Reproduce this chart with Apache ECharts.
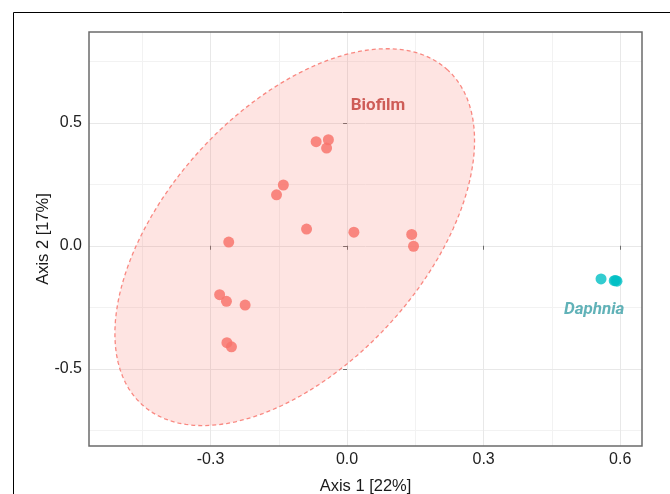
<!DOCTYPE html>
<html>
<head>
<meta charset="utf-8">
<script src="https://cdn.jsdelivr.net/npm/echarts@6/dist/echarts.min.js"></script>
<style>
  html, body { margin: 0; padding: 0; background: #fff; }
  #main { width: 670px; height: 494px; }
</style>
</head>
<body>
<div id="main"></div>
<script>
// PCoA ordination: Biofilm vs Daphnia samples
const biofilm = [
  [-0.068, 0.423], [-0.041, 0.431], [-0.045, 0.397],
  [-0.140, 0.247], [-0.155, 0.207], [-0.089, 0.068],
  [0.015, 0.055], [0.142, 0.046], [0.146, -0.002],
  [-0.260, 0.015], [-0.280, -0.199], [-0.265, -0.226],
  [-0.224, -0.241], [-0.264, -0.394], [-0.254, -0.411]
];
const daphnia = [
  [0.558, -0.135], [0.587, -0.142], [0.593, -0.144], [0.590, -0.141]
];

// 95% ellipse for Biofilm: centre and two semi-axis vectors (data units)
const ellipseCenter = [-0.115, 0.035];
const ellipseAxisA = [0.336, 0.680];
const ellipseAxisB = [-0.208, 0.353];

const xTicks = [-0.3, 0.0, 0.3, 0.6];
const xMinor = [-0.45, -0.15, 0.15, 0.45];
const yTicks = [-0.5, 0.0, 0.5];
const yMinor = [-0.75, -0.25, 0.25, 0.75];

const groupLabels = ['Biofilm', 'Daphnia'];
const labelPos = [[0.068, 0.569], [0.543, -0.261]];

const chart = echarts.init(document.getElementById('main'));

function ellipseItem(params, api) {
  const pts = [];
  for (let i = 0; i <= 120; i++) {
    const t = i / 120 * Math.PI * 2;
    const c = Math.cos(t), s = Math.sin(t);
    pts.push(api.coord([
      ellipseCenter[0] + c * ellipseAxisA[0] + s * ellipseAxisB[0],
      ellipseCenter[1] + c * ellipseAxisA[1] + s * ellipseAxisB[1]
    ]));
  }
  return {
    type: 'polygon',
    shape: { points: pts },
    style: {
      fill: 'rgba(248,118,109,0.2)',
      stroke: 'rgba(248,118,109,0.85)',
      lineWidth: 1.3,
      lineDash: [4, 3]
    }
  };
}

const gridLine = (color) => ({ color: color, width: 1, type: 'solid' });
const axisFont = 'Liberation Sans';

const option = {
  animation: false,
  textStyle: { fontFamily: axisFont },
  graphic: [{
    type: 'rect',
    shape: { x: 13.5, y: 12.5, width: 720, height: 520 },
    style: { fill: null, stroke: '#000', lineWidth: 1 },
    z: 100
  }],
  grid: {
    left: 89, top: 32, right: 28, bottom: 48,
    outerBoundsMode: 'none',
    show: true,
    borderColor: '#6b6b6b',
    borderWidth: 1.5,
    backgroundColor: 'transparent',
    z: 10
  },
  xAxis: {
    type: 'value',
    min: -0.567, max: 0.648,
    name: 'Axis 1 [22%]',
    nameLocation: 'middle',
    nameGap: 32,
    nameMoveOverlap: false,
    nameTextStyle: { fontSize: 16.5, color: '#1a1a1a', fontFamily: axisFont },
    axisLine: { show: false },
    splitLine: { show: false },
    axisTick: { show: true, customValues: xTicks, length: 4, lineStyle: { color: '#6b6b6b' } },
    axisLabel: {
      customValues: xTicks,
      margin: 6,
      fontSize: 16,
      color: '#222',
      fontFamily: axisFont,
      formatter: (v) => v.toFixed(1)
    }
  },
  yAxis: {
    type: 'value',
    min: -0.814, max: 0.869,
    name: 'Axis 2 [17%]',
    nameLocation: 'middle',
    nameGap: 37,
    nameRotate: 90,
    nameMoveOverlap: false,
    nameTextStyle: { fontSize: 16.5, color: '#1a1a1a', fontFamily: axisFont },
    axisLine: { show: false },
    splitLine: { show: false },
    axisTick: { show: true, customValues: yTicks, length: 4, lineStyle: { color: '#6b6b6b' } },
    axisLabel: {
      customValues: yTicks,
      margin: 7,
      fontSize: 16,
      color: '#222',
      fontFamily: axisFont,
      formatter: (v) => v.toFixed(1)
    }
  },
  series: [
    {
      // grid lines
      type: 'scatter',
      data: [],
      z: 1,
      markLine: {
        silent: true,
        z: 0,
        symbol: ['none', 'none'],
        label: { show: false },
        animation: false,
        data: [
          ...xMinor.map(v => ({ xAxis: v, lineStyle: gridLine('#f2f2f2') })),
          ...yMinor.map(v => ({ yAxis: v, lineStyle: gridLine('#f2f2f2') })),
          ...xTicks.map(v => ({ xAxis: v, lineStyle: gridLine('#e8e8e8') })),
          ...yTicks.map(v => ({ yAxis: v, lineStyle: gridLine('#e8e8e8') }))
        ]
      }
    },
    {
      type: 'custom',
      renderItem: ellipseItem,
      data: [ellipseCenter],
      z: 2,
      silent: true
    },
    {
      name: 'Biofilm',
      type: 'scatter',
      data: biofilm,
      symbolSize: 11,
      itemStyle: { color: '#F8766D', opacity: 0.85 },
      z: 3
    },
    {
      name: 'Daphnia',
      type: 'scatter',
      data: daphnia,
      symbolSize: 11,
      itemStyle: { color: '#00BFC4', opacity: 0.8 },
      z: 3
    },
    {
      type: 'scatter',
      symbolSize: 0,
      z: 4,
      data: labelPos.map((p, i) => ({
        value: p,
        name: groupLabels[i],
        label: {
          show: true,
          position: 'inside',
          formatter: '{b}',
          fontSize: 17,
          fontWeight: 'bold',
          fontStyle: i === 1 ? 'italic' : 'normal',
          fontFamily: 'Roboto',
          color: i === 0 ? '#C23B35' : '#3A9FA6'
        }
      }))
    }
  ]
};

chart.setOption(option);
</script>
</body>
</html>
